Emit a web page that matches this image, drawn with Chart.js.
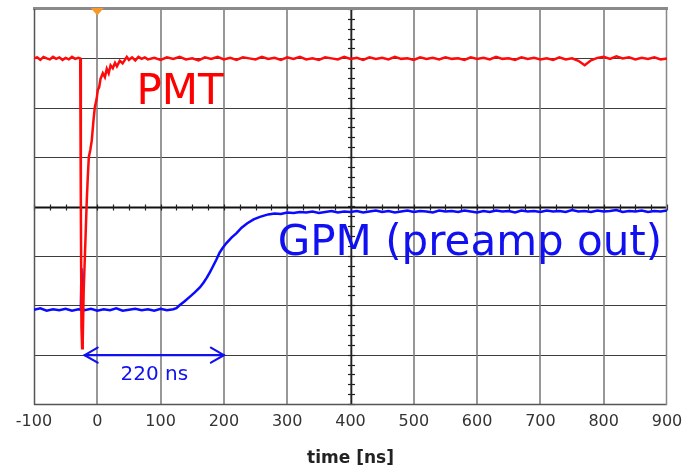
<!DOCTYPE html>
<html>
<head>
<meta charset="utf-8">
<script src="https://cdn.jsdelivr.net/npm/chart.js@4.4.1/dist/chart.umd.min.js"></script>
<style>
  html, body { margin: 0; padding: 0; background: #fff; }
  canvas { display: block; }
</style>
</head>
<body>
<canvas id="scope" width="685" height="468"></canvas>
<script>
// Time axis divisions (ns) used for tick labels and vertical grid lines
const tickTimes = [-100, 0, 100, 200, 300, 400, 500, 600, 700, 800, 900];

// Vertical position of each trace, in screen divisions (0 = bottom, 8 = top)

// PMT: baseline, fast negative pulse and recovery
const pmtEdgeTime = [-100,-95,-90,-85,-80,-75,-70,-65,-60,-55,-50,-45,-40,-35,-30,
  -27,-26,-25,-24,-23,
  -21.5,-20,-18,-16.6,-15,-13.4,-11,-8.7,-6,-3.9,-1,0.8,
  3,5,8.7,12,15,18,21,24.5,28,31,35.5,40,46.6,
  50,55,60,65,70,75,80];
const pmtEdgeDiv = [7.00,7.02,6.97,7.03,7.00,6.98,7.03,6.99,7.02,6.97,7.01,6.98,7.03,6.99,7.01,
  7.00,4.00,1.55,1.13,1.28,
  2.30,2.85,3.60,4.13,4.60,5.00,5.15,5.34,5.75,6.01,6.18,6.36,
  6.42,6.58,6.70,6.62,6.79,6.70,6.86,6.80,6.91,6.84,6.95,6.90,7.03,
  6.97,7.02,6.96,7.03,6.99,7.02,6.98];
// PMT record after the pulse, sampled every 10 ns from 90 ns
const pmtTailStart = 90, pmtTailStep = 10;
const pmtTailDiv = [
  7.01,6.97,7.02,6.99,7.03,6.98,7.00,6.96,7.02,6.99,
  7.03,6.98,7.01,6.97,7.02,7.00,6.98,7.03,6.99,7.01,
  6.97,7.02,6.99,7.03,6.98,7.00,6.97,7.02,7.00,6.98,
  7.03,6.99,7.01,6.97,7.02,6.99,7.01,6.98,7.03,6.99,
  7.00,6.97,7.02,6.99,7.01,6.98,7.02,6.99,7.00,6.97,
  7.02,6.99,7.01,6.98,7.03,6.99,7.00,6.97,7.02,6.99,
  7.01,6.98,7.00,6.97,7.02,6.98,7.00,6.95,6.86,6.96,
  7.01,7.03,6.99,7.04,7.00,7.02,6.98,7.01,6.99,7.02,
  6.98,7.00];

// GPM preamp output: baseline, pickup spike, slow rise
const gpmEdgeTime = [-100,-90,-80,-70,-60,-50,-40,-30,
  -26,-25,-24,-23,
  -20,-10,0,10,20,30,40,50,60,70,80,90,100,110,120,
  125,130,138,146,154,162,168,173,178,182,188,193,198,204,212,220,228,237,247,257,270,280,290,300];
const gpmEdgeDiv = [1.91,1.94,1.89,1.92,1.90,1.93,1.89,1.92,
  1.91,2.75,1.78,1.92,
  1.90,1.93,1.89,1.92,1.90,1.94,1.89,1.91,1.93,1.90,1.92,1.89,1.93,1.90,1.92,
  1.94,2.00,2.08,2.17,2.26,2.36,2.46,2.56,2.67,2.77,2.92,3.06,3.16,3.26,3.37,3.46,3.57,3.66,3.74,3.79,3.84,3.86,3.85,3.88];
// GPM plateau, sampled every 10 ns from 310 ns
const gpmTailStart = 310, gpmTailStep = 10;
const gpmTailDiv = [
  3.87,3.89,3.88,3.90,3.87,3.89,3.91,3.88,3.90,3.89,
  3.91,3.88,3.90,3.92,3.89,3.91,3.88,3.90,3.92,3.89,
  3.91,3.90,3.88,3.92,3.90,3.91,3.89,3.92,3.90,3.88,
  3.91,3.89,3.92,3.90,3.91,3.88,3.92,3.90,3.91,3.89,
  3.92,3.90,3.91,3.89,3.93,3.90,3.91,3.89,3.92,3.90,
  3.91,3.93,3.89,3.91,3.90,3.92,3.89,3.91,3.90,3.92];

// Rise-time marker
const riseStart = -20;   // ns
const riseSpan = 220;    // ns
const riseLabel = '220 ns';

function record(edgeT, edgeV, tailStart, tailStep, tailV) {
  const pts = edgeT.map((t, i) => ({ x: t, y: edgeV[i] }));
  tailV.forEach((v, i) => pts.push({ x: tailStart + i * tailStep, y: v }));
  return pts;
}

const FONT = '"DejaVu Sans", Verdana, sans-serif';

function seg(ctx, x1, y1, x2, y2) {
  ctx.beginPath(); ctx.moveTo(x1, y1); ctx.lineTo(x2, y2); ctx.stroke();
}

// Oscilloscope graticule, drawn behind the traces
const graticule = {
  id: 'graticule',
  beforeDatasetsDraw(chart) {
    const { ctx, chartArea: a, scales: { x, y } } = chart;
    ctx.save();
    // horizontal division lines
    ctx.strokeStyle = '#3c3c3c'; ctx.lineWidth = 1.2;
    for (let d = 1; d < 8; d++) {
      const py = Math.round(y.getPixelForValue(d)) + 0.5;
      seg(ctx, a.left, py, a.right, py);
    }
    // vertical division lines
    ctx.strokeStyle = '#7e7e7e'; ctx.lineWidth = 1.6;
    tickTimes.slice(1, -1).forEach(t => {
      const px = Math.round(x.getPixelForValue(t));
      seg(ctx, px, a.top, px, a.bottom);
    });
    // centre axes with minor ticks
    const cy = Math.round(y.getPixelForValue(4)) + 0.5;
    const cx = Math.round(x.getPixelForValue(400)) + 0.5;
    ctx.strokeStyle = '#111'; ctx.lineWidth = 2;
    seg(ctx, a.left, cy, a.right, cy);
    ctx.lineWidth = 1.6; ctx.strokeStyle = '#222';
    seg(ctx, cx, a.top, cx, a.bottom);
    ctx.lineWidth = 1.2; ctx.strokeStyle = '#222';
    for (let t = -100; t <= 900; t += 25) {
      const px = Math.round(x.getPixelForValue(t)) + 0.5;
      seg(ctx, px, cy - 3, px, cy + 3);
    }
    for (let d = 0; d <= 8.001; d += 0.2) {
      const py = Math.round(y.getPixelForValue(d)) + 0.5;
      seg(ctx, cx - 3.5, py, cx + 3.5, py);
    }
    // frame
    ctx.strokeStyle = '#8a8a8a'; ctx.lineWidth = 3;
    seg(ctx, a.left - 1, a.top - 0.5, a.right + 1, a.top - 0.5);
    ctx.lineWidth = 1.5;
    ctx.strokeStyle = '#555';
    seg(ctx, a.left + 0.5, a.top, a.left + 0.5, a.bottom + 1);
    seg(ctx, a.left, a.bottom + 0.5, a.right, a.bottom + 0.5);
    ctx.strokeStyle = '#888';
    seg(ctx, a.right - 0.5, a.top, a.right - 0.5, a.bottom + 1);
    ctx.restore();
  },
  afterDatasetsDraw(chart) {
    const { ctx, chartArea: a, scales: { x, y } } = chart;
    ctx.save();
    // trigger marker
    const tx = x.getPixelForValue(0);
    ctx.fillStyle = '#f39a2a';
    ctx.beginPath();
    ctx.moveTo(tx - 6.5, a.top - 1); ctx.lineTo(tx + 6.5, a.top - 1); ctx.lineTo(tx, a.top + 6.5);
    ctx.closePath(); ctx.fill();

    // trace labels
    ctx.textBaseline = 'alphabetic'; ctx.textAlign = 'left';
    ctx.font = '42px ' + FONT;
    ctx.fillStyle = '#ff0000';
    ctx.fillText('PMT', x.getPixelForValue(62), y.getPixelForValue(6.08));
    ctx.fillStyle = '#1010f0';
    ctx.fillText('GPM (preamp out)', x.getPixelForValue(285), y.getPixelForValue(3.02));

    // rise-time arrow
    const ay = y.getPixelForValue(1) + 0.5;
    const x1 = x.getPixelForValue(riseStart), x2 = x.getPixelForValue(riseStart + riseSpan);
    ctx.strokeStyle = '#1010f0'; ctx.lineWidth = 2.2; ctx.lineCap = 'round';
    seg(ctx, x1, ay, x2, ay);
    ctx.beginPath();
    ctx.moveTo(x1 + 13, ay - 7.5); ctx.lineTo(x1, ay); ctx.lineTo(x1 + 13, ay + 7.5);
    ctx.moveTo(x2 - 13, ay - 7.5); ctx.lineTo(x2, ay); ctx.lineTo(x2 - 13, ay + 7.5);
    ctx.stroke();
    ctx.font = '20px ' + FONT; ctx.textAlign = 'center';
    ctx.fillStyle = '#1010f0';
    ctx.fillText(riseLabel, (x1 + x2) / 2, ay + 25);
    ctx.restore();
  }
};

new Chart(document.getElementById('scope'), {
  type: 'scatter',
  data: {
    datasets: [
      {
        label: 'PMT',
        data: record(pmtEdgeTime, pmtEdgeDiv, pmtTailStart, pmtTailStep, pmtTailDiv),
        showLine: true, borderColor: '#ff0a0a', borderWidth: 2.5,
        pointRadius: 0, tension: 0
      },
      {
        label: 'GPM (preamp out)',
        data: record(gpmEdgeTime, gpmEdgeDiv, gpmTailStart, gpmTailStep, gpmTailDiv),
        showLine: true, borderColor: '#0a0aff', borderWidth: 2.5,
        pointRadius: 0, tension: 0
      }
    ]
  },
  options: {
    responsive: false,
    animation: false,
    devicePixelRatio: 1,
    layout: { padding: { top: 9, right: 18, left: 0, bottom: 0 } },
    plugins: { legend: { display: false }, tooltip: { enabled: false } },
    scales: {
      x: {
        type: 'linear', min: -100, max: 900,
        afterBuildTicks(scale) { scale.ticks = tickTimes.map(v => ({ value: v })); },
        afterFit(scale) {
          scale.height = 64;
          scale.paddingLeft = 0;
          scale.paddingRight = 0;
        },
        ticks: { color: '#333', font: { family: FONT, size: 16 }, padding: 8, maxRotation: 0 },
        grid: { display: false, drawTicks: false },
        border: { display: false },
        title: {
          display: true, text: 'time [ns]', color: '#222',
          font: { family: FONT, size: 17, weight: 'bold' },
          padding: { top: 0, bottom: -1 }
        }
      },
      y: {
        min: 0, max: 8,
        afterFit(scale) { scale.width = 34; },
        ticks: { display: false },
        grid: { display: false, drawTicks: false },
        border: { display: false }
      }
    }
  },
  plugins: [graticule]
});
</script>
</body>
</html>
